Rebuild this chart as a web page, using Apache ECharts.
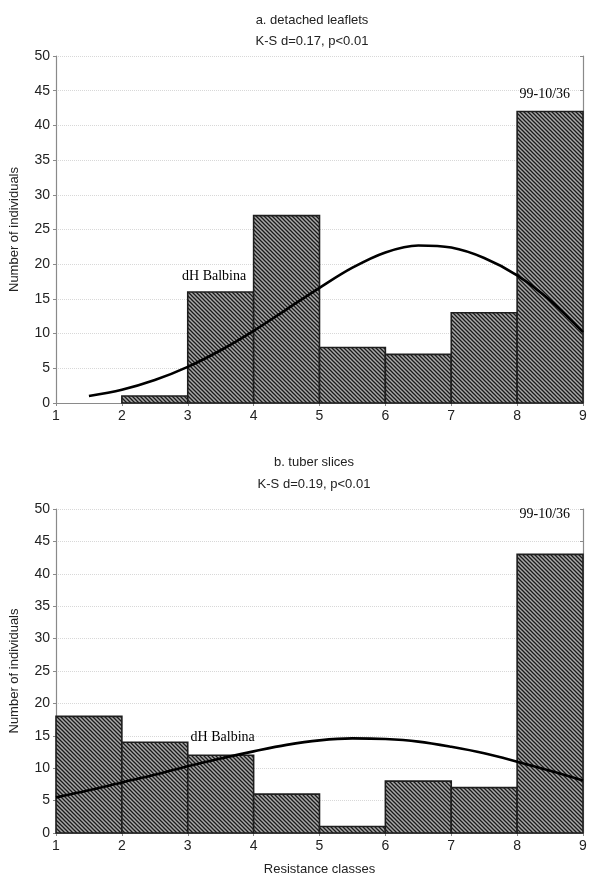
<!DOCTYPE html>
<html>
<head>
<meta charset="utf-8">
<script src="https://cdn.jsdelivr.net/npm/echarts@6/dist/echarts.min.js"></script>
<style>html,body{margin:0;padding:0;background:#fff}#c{width:600px;height:892px}</style>
</head>
<body>
<div id="c"></div>
<script>
// ---- data ----
const xTicks = [1, 2, 3, 4, 5, 6, 7, 8, 9];
const yTicks = [0, 5, 10, 15, 20, 25, 30, 35, 40, 45, 50];
const binStarts = [1, 2, 3, 4, 5, 6, 7, 8];
const countsA = [0, 1, 16, 27, 8, 7, 13, 42];
const countsB = [18, 14, 12, 6, 1, 8, 7, 43];
const curveAX = [1.5, 2, 2.5, 3, 3.5, 4, 4.5, 5, 5.5, 6, 6.5, 7, 7.5, 8, 8.5, 9];
const curveAY = [1.0, 1.9, 3.3, 5.2, 7.6, 10.4, 13.5, 16.6, 19.5, 21.7, 22.7, 22.4, 20.9, 18.4, 14.8, 10.2];
const curveBX = [1, 1.5, 2, 2.5, 3, 3.5, 4, 4.5, 5, 5.5, 6, 6.5, 7, 7.5, 8, 8.5, 9];
const curveBY = [5.5, 6.6, 7.8, 9.0, 10.3, 11.5, 12.6, 13.6, 14.3, 14.6, 14.5, 14.1, 13.3, 12.3, 11.0, 9.6, 8.1];
const labelsA = [[3.4, 18.2, 'dH Balbina'], [8.42, 44.5, '99-10/36']];
const labelsB = [[3.53, 14.7, 'dH Balbina'], [8.42, 49.2, '99-10/36']];
const titlesA = ['a. detached leaflets', 'K-S d=0.17, p<0.01'];
const titlesB = ['b. tuber slices', 'K-S d=0.19, p<0.01'];

// ---- hatch pattern ----
const tile = document.createElement('canvas');
tile.width = 4; tile.height = 4;
const tc = tile.getContext('2d');
tc.fillStyle = '#a8a8a8'; tc.fillRect(0, 0, 4, 4);
tc.strokeStyle = '#1a1a1a'; tc.lineWidth = 1.3;
tc.beginPath();
tc.moveTo(-1, -1); tc.lineTo(5, 5);
tc.moveTo(-1, 3); tc.lineTo(1, 5);
tc.moveTo(3, -1); tc.lineTo(5, 1);
tc.stroke();
const hatch = { image: tile, repeat: 'repeat' };

const sans = 'Liberation Sans, Arial, sans-serif';
const serif = 'Liberation Serif, Times New Roman, serif';
const grids = [
  { left: 54, right: 17, top: 56, height: 347 },
  { left: 54, right: 17, top: 509, height: 324 }
];

function xAxes(gi, showName) {
  return [
    { type: 'value', gridIndex: gi, min: 1, max: 9, interval: 1, position: 'bottom',
      axisLine: { show: true, lineStyle: { color: '#8a8a8a', width: 1.2 } },
      axisTick: { show: false },
      axisLabel: { color: '#222', fontFamily: sans, fontSize: 14, margin: 6 },
      splitLine: { show: false },
      name: showName ? 'Resistance classes' : '', nameLocation: 'middle', nameGap: 30,
      nameTextStyle: { color: '#222', fontFamily: sans, fontSize: 13 } },
    { type: 'value', gridIndex: gi, min: 1, max: 9, interval: 1, position: 'top',
      axisLine: { show: true, lineStyle: { color: '#8a8a8a', width: 1.2 } },
      axisTick: { show: true, inside: true, length: 3, lineStyle: { color: '#8a8a8a' } },
      axisLabel: { show: false }, splitLine: { show: false } }
  ];
}
function yAxes(gi) {
  return [
    { type: 'value', gridIndex: gi, min: 0, max: 50, interval: 5, position: 'left',
      axisLine: { show: true, lineStyle: { color: '#8a8a8a', width: 1.2 } },
      axisTick: { show: true, length: 3, lineStyle: { color: '#8a8a8a' } },
      axisLabel: { color: '#222', fontFamily: sans, fontSize: 14, margin: 6 },
      splitLine: { show: true, lineStyle: { color: '#d8d8d8', type: 'dotted', width: 1 } },
      name: 'Number of individuals', nameLocation: 'middle', nameGap: 35,
      nameTextStyle: { color: '#222', fontFamily: sans, fontSize: 13 } },
    { type: 'value', gridIndex: gi, min: 0, max: 50, interval: 5, position: 'right',
      axisLine: { show: true, lineStyle: { color: '#8a8a8a', width: 1.2 } },
      axisTick: { show: true, inside: true, length: 3, lineStyle: { color: '#8a8a8a' } },
      axisLabel: { show: false }, splitLine: { show: false } }
  ];
}

function barSeries(xi, yi, counts) {
  return {
    type: 'custom', xAxisIndex: xi, yAxisIndex: yi, z: 2,
    data: binStarts.map((s, i) => [s, s + 1, counts[i]]),
    renderItem: function (params, api) {
      const v = api.value(2);
      if (!v) return null;
      const p0 = api.coord([api.value(0), v]);
      const p1 = api.coord([api.value(1), 0]);
      return { type: 'rect',
        shape: { x: p0[0], y: p0[1], width: p1[0] - p0[0], height: p1[1] - p0[1] },
        style: { fill: hatch, stroke: '#1e1e1e', lineWidth: 1.6 } };
    }
  };
}
function curveSeries(xi, yi, xs, ys) {
  return { type: 'line', xAxisIndex: xi, yAxisIndex: yi, z: 5, smooth: 0.35, symbol: 'none',
    lineStyle: { color: '#000', width: 2.6 }, data: xs.map((x, i) => [x, ys[i]]) };
}
function labelSeries(xi, yi, labels) {
  return { type: 'scatter', xAxisIndex: xi, yAxisIndex: yi, z: 6, symbolSize: 1,
    itemStyle: { color: 'rgba(0,0,0,0)', opacity: 1 },
    label: { show: true, position: 'inside', formatter: p => p.data[2],
      fontFamily: serif, fontSize: 14, color: '#000', opacity: 1 },
    emphasis: { disabled: true },
    data: labels };
}

const chart = echarts.init(document.getElementById('c'), null, { renderer: 'canvas' });
chart.setOption({
  backgroundColor: '#fff',
  animation: false,
  title: [
    { text: titlesA[0], left: 307, top: 9, textAlign: 'center',
      textStyle: { fontFamily: sans, fontSize: 13, fontWeight: 'normal', color: '#222' } },
    { text: titlesA[1], left: 307, top: 30, textAlign: 'center',
      textStyle: { fontFamily: sans, fontSize: 13, fontWeight: 'normal', color: '#222' } },
    { text: titlesB[0], left: 309, top: 451, textAlign: 'center',
      textStyle: { fontFamily: sans, fontSize: 13, fontWeight: 'normal', color: '#222' } },
    { text: titlesB[1], left: 309, top: 473, textAlign: 'center',
      textStyle: { fontFamily: sans, fontSize: 13, fontWeight: 'normal', color: '#222' } }
  ],
  grid: grids,
  xAxis: [...xAxes(0, false), ...xAxes(1, true)],
  yAxis: [...yAxes(0), ...yAxes(1)],
  series: [
    barSeries(0, 0, countsA), curveSeries(0, 0, curveAX, curveAY), labelSeries(0, 0, labelsA),
    barSeries(2, 2, countsB), curveSeries(2, 2, curveBX, curveBY), labelSeries(2, 2, labelsB)
  ]
});
</script>
</body>
</html>
